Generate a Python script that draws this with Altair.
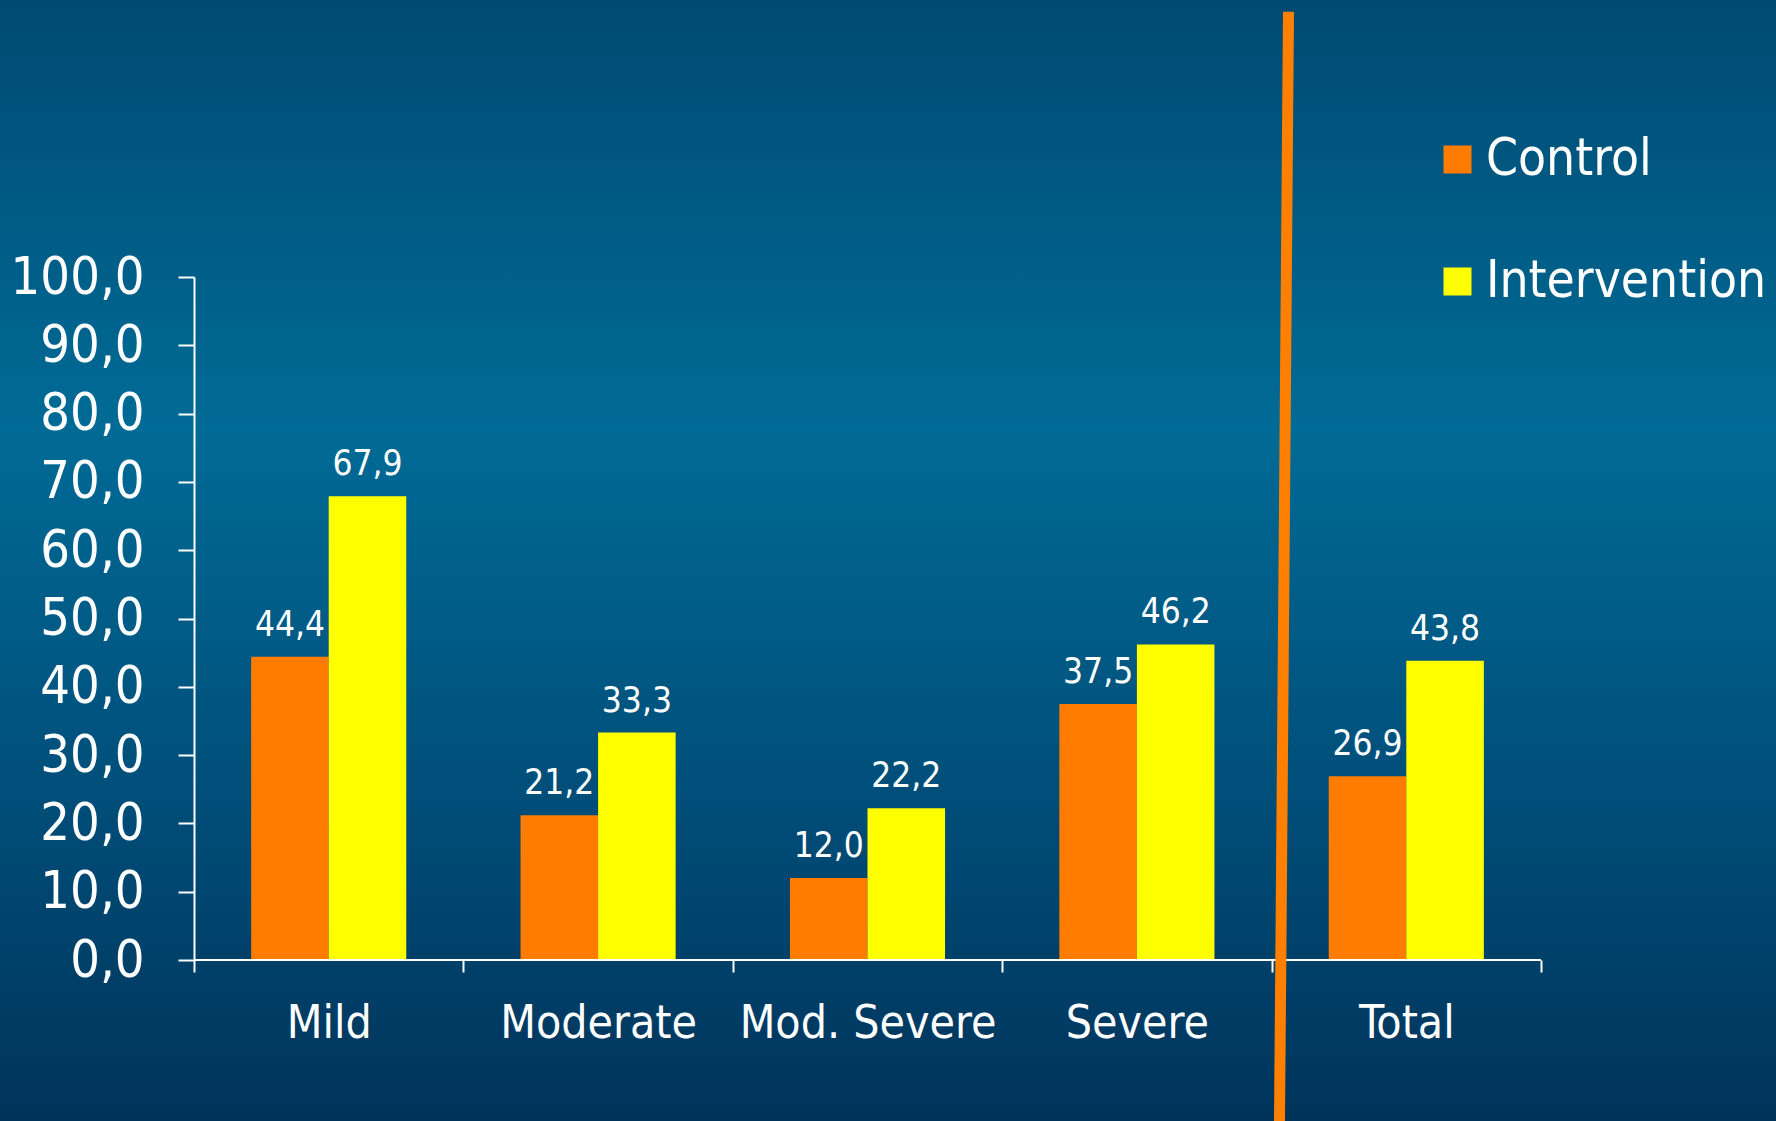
import altair as alt
import pandas as pd

# Response rates by severity group
groups = ["Mild", "Moderate", "Mod. Severe", "Severe", "Total"]
series = ["Control", "Intervention"]
control = [44.4, 21.2, 12.0, 37.5, 26.9]
intervention = [67.9, 33.3, 22.2, 46.2, 43.8]
series_colors = ["#FF7C00", "#FFFF00"]
y_ticks = [0, 10, 20, 30, 40, 50, 60, 70, 80, 90, 100]

rows = []
for g, c, i in zip(groups, control, intervention):
    rows.append({"group": g, "series": "Control", "value": c})
    rows.append({"group": g, "series": "Intervention", "value": i})
df = pd.DataFrame(rows)

W, H = 1347, 683
PAD = {"left": 194, "top": 277, "right": 235, "bottom": 161}
FONT = "DejaVu Sans Condensed, Liberation Sans, sans-serif"

# slide-style vertical gradient behind everything
backdrop = alt.Chart(pd.DataFrame({"k": [0]})).mark_rect(
    fill={
        "gradient": "linear",
        "x1": 0, "y1": 0, "x2": 0, "y2": 1,
        "stops": [
            {"offset": 0.0, "color": "#004A72"},
            {"offset": 0.38, "color": "#006B96"},
            {"offset": 0.7, "color": "#004F7A"},
            {"offset": 1.0, "color": "#00335A"},
        ],
    }
).encode(
    x=alt.value(-PAD["left"]),
    x2=alt.value(W + PAD["right"]),
    y=alt.value(-PAD["top"]),
    y2=alt.value(H + PAD["bottom"]),
)

x_enc = alt.X(
    "group:N",
    sort=groups,
    title=None,
    scale=alt.Scale(paddingInner=0, paddingOuter=0),
    axis=alt.Axis(
        tickBand="extent",
        labelAngle=0,
        labelFontSize=46,
        labelFont=FONT,
        labelColor="white",
        labelPadding=29,
        labelLimit=0,
        tickColor="white",
        tickSize=12,
        tickWidth=2,
        domain=False,
        grid=False,
        zindex=1,
    ),
)
xoff_enc = alt.XOffset(
    "series:N", sort=series, scale=alt.Scale(paddingInner=0, paddingOuter=0.737)
)
y_enc = alt.Y(
    "value:Q",
    title=None,
    scale=alt.Scale(domain=[0, 100], nice=False),
    axis=alt.Axis(
        values=y_ticks,
        labelExpr="replace(format(datum.value, '.1f'), '.', ',')",
        labelFontSize=52,
        labelFont=FONT,
        labelColor="white",
        labelPadding=34,
        labelLimit=0,
        tickColor="white",
        tickSize=16,
        tickWidth=2,
        domainColor="white",
        domainWidth=2,
        grid=False,
        zindex=1,
    ),
)

base = alt.Chart(df)

bars = base.mark_bar(strokeWidth=0).encode(
    x=x_enc,
    xOffset=xoff_enc,
    y=y_enc,
    color=alt.Color(
        "series:N",
        sort=series,
        scale=alt.Scale(domain=series, range=series_colors),
        legend=alt.Legend(
            title=None,
            orient="none",
            legendX=1238,
            legendY=-143,
            symbolType="square",
            symbolSize=784,
            symbolStrokeWidth=0,
            labelFontSize=51,
            labelFont=FONT,
            labelColor="white",
            labelOffset=3,
            labelLimit=0,
            rowPadding=70,
            zindex=1,
        ),
    ),
)

labels = base.transform_calculate(
    label="replace(format(datum.value, '.1f'), '.', ',')"
).mark_text(
    dy=-21, fontSize=35, font=FONT, color="white", baseline="alphabetic"
).encode(
    x=x_enc,
    xOffset=xoff_enc,
    y=y_enc,
    text="label:N",
)

# horizontal baseline of the category axis
x_domain = alt.Chart(pd.DataFrame({"k": [0]})).mark_rule(
    color="white", strokeWidth=2
).encode(x=alt.value(0), x2=alt.value(W), y=alt.value(H))

# slanted divider separating the subgroups from the total
divider = alt.Chart(pd.DataFrame({"k": [0]})).mark_rule(
    color="#FF8000", strokeWidth=11
).encode(
    x=alt.value(1288.5 - PAD["left"]),
    x2=alt.value(1279.5 - PAD["left"]),
    y=alt.value(11.7 - PAD["top"]),
    y2=alt.value(1121 - PAD["top"]),
)

chart = alt.layer(backdrop, bars, labels, x_domain, divider).properties(
    width=W,
    height=H,
    padding=PAD,
    autosize=alt.AutoSizeParams(type="none"),
    background="#00335A",
).configure_view(stroke=None)

chart.save("out.html", embed_options={"renderer": "svg", "actions": False})
